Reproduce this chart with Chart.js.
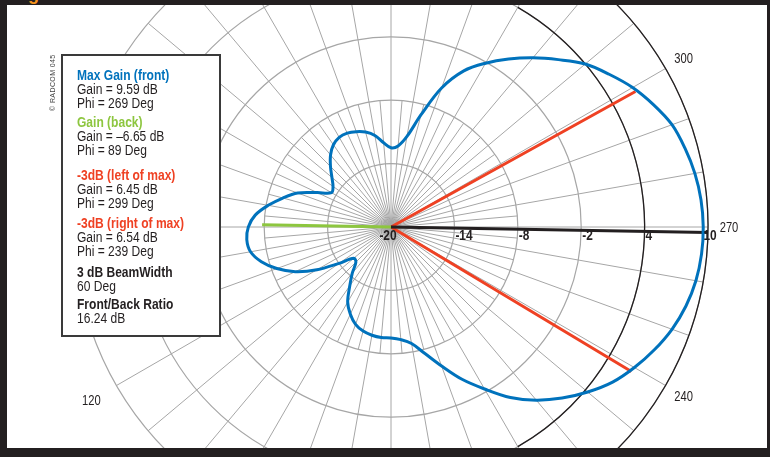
<!DOCTYPE html>
<html>
<head>
<meta charset="utf-8">
<script src="https://cdn.jsdelivr.net/npm/chart.js@4.4.1/dist/chart.umd.min.js"></script>
<style>
    html, body {
        margin: 0;
        padding: 0;
        width: 770px;
        height: 457px;
        overflow: hidden;
        background: #231f20;
        font-family: "Liberation Sans", Arial, sans-serif;
    }
    #panel {
        position: absolute;
        left: 7px;
        top: 5px;
        width: 760px;
        height: 443px;
        background: #fff;
        overflow: hidden;
    }
    #chartWrap {
        position: absolute;
        left: 24px;
        top: -138px;
        width: 720px;
        height: 720px;
    }
    #titleTail {
        position: absolute;
        left: 12px;
        top: -15px;
        font: bold 18px/18px "Liberation Sans", Arial, sans-serif;
        color: #f7941d;
    }
    #copyright {
        position: absolute;
        left: 49px;
        top: 111px;
        transform: rotate(-90deg);
        transform-origin: 0 0;
        font-size: 7px;
        line-height: 8px;
        letter-spacing: 0.4px;
        color: #444;
        white-space: nowrap;
    }
    #legendBox {
        position: absolute;
        left: 61px;
        top: 54px;
        width: 160px;
        height: 283px;
        box-sizing: border-box;
        border: 2px solid #3a3a3a;
        background: #fff;
    }
    .group {
        position: absolute;
        left: 14px;
        transform: scaleX(0.86);
        transform-origin: 0 0;
        font-size: 14px;
        line-height: 14px;
        color: #231f20;
        white-space: nowrap;
    }
    .group b { display: block; }
    .blue { color: #0072bc; }
    .green { color: #8dc63f; }
    .red { color: #ef4123; }
</style>
</head>
<body>
<div id="panel">
    <div id="chartWrap"><canvas id="patternChart" width="720" height="720"></canvas></div>
</div>
<div id="titleTail">Fig</div>
<div id="copyright">© RADCOM 045</div>
<div id="legendBox">
    <div class="group" style="top:12px"><b class="blue">Max Gain (front)</b>Gain = 9.59 dB<br>Phi = 269 Deg</div>
    <div class="group" style="top:59px"><b class="green">Gain (back)</b>Gain = –6.65 dB<br>Phi = 89 Deg</div>
    <div class="group" style="top:112px"><b class="red">-3dB (left of max)</b>Gain = 6.45 dB<br>Phi = 299 Deg</div>
    <div class="group" style="top:160px"><b class="red">-3dB (right of max)</b>Gain = 6.54 dB<br>Phi = 239 Deg</div>
    <div class="group" style="top:209px"><b>3 dB BeamWidth</b>60 Deg</div>
    <div class="group" style="top:241px"><b>Front/Back Ratio</b>16.24 dB</div>
</div>

<script>
// Pattern, every 5 degrees of phi (dB)
const patternPhi = [
    0, 5, 10, 15, 20, 25, 30, 35, 40, 45, 50, 55,
    60, 65, 70, 75, 80, 85, 90, 95, 100, 105, 110, 115,
    120, 125, 130, 135, 140, 145, 150, 155, 160, 165, 170, 175,
    180, 185, 190, 195, 200, 205, 210, 215, 220, 225, 230, 235,
    240, 245, 250, 255, 260, 265, 270, 275, 280, 285, 290, 295,
    300, 305, 310, 315, 320, 325, 330, 335, 340, 345, 350, 355
];
const patternGain = [
    -12.5, -12.0, -11.2, -10.7, -10.4, -10.2, -10.2, -10.5, -11.1, -11.9, -12.7, -13.3,
    -13.5, -12.3, -10.6, -9.4, -8.2, -7.1, -6.5, -6.3, -6.5, -7.3, -8.5, -10.0,
    -11.9, -14.0, -15.4, -15.3, -14.3, -13.2, -11.8, -10.9, -10.2, -9.8, -9.6, -9.5,
    -9.5, -9.3, -8.8, -7.6, -6.0, -4.1, -2.3, -0.3, 1.4, 2.9, 4.3, 5.6,
    6.6, 7.5, 8.3, 8.9, 9.3, 9.5, 9.55, 9.45, 9.2, 8.8, 8.3, 7.4,
    6.4, 5.2, 4.0, 2.4, 0.9, -0.6, -2.1, -3.7, -6.0, -9.0, -11.3, -12.3
];

// Marker lines: direction (phi) and where each line stops on the dB scale
const markerPhi = [269, 89, 299, 239];
const markerReach = [10, -7.8, 6.45, 6.54];
const markerColors = ['#231f20', '#8dc63f', '#ef4123', '#ef4123'];

// Scale
const scaleMin = -20;
const scaleMax = 10;
const scaleStep = 6;
const tickValues = [-20, -14, -8, -2, 4, 10];
const angleLabels = [120, 240, 270, 300];
const blackRings = [4, 10];
const frontSector = [210, 330];
const fineSpokeLimit = -8;

const gridGray = '#a6a6a6';
const inkBlack = '#231f20';

// phi runs counter-clockwise from the top, radar indexes run clockwise
const phiLabels = [];
for (let i = 0; i < 360; i++) phiLabels.push((360 - i) % 360);
const indexOfPhi = phi => (360 - phi) % 360;

function emptySeries() {
    return new Array(360).fill(null);
}

const patternData = emptySeries();
patternPhi.forEach((phi, k) => { patternData[indexOfPhi(phi)] = patternGain[k]; });

const markerSets = markerPhi.map((phi, k) => {
    const data = emptySeries();
    const idx = indexOfPhi(phi);
    data[idx] = markerReach[k];
    data[(idx + 1) % 360] = scaleMin;
    return {
        data: data,
        borderColor: markerColors[k],
        borderWidth: 3,
        tension: 0,
        spanGaps: true,
        fill: false,
        pointRadius: 0
    };
});

function condensedText(ctx, text, x, y, align, squeeze) {
    ctx.save();
    ctx.translate(x, y);
    ctx.scale(squeeze, 1);
    ctx.textAlign = align;
    ctx.textBaseline = 'middle';
    ctx.fillText(text, 0, 0);
    ctx.restore();
}

const polarExtras = {
    id: 'polarExtras',
    beforeDatasetsDraw(chart) {
        const scale = chart.scales.r;
        const ctx = chart.ctx;
        ctx.save();

        // 5 degree spokes, only near the centre
        const inner = scale.getDistanceFromCenterForValue(fineSpokeLimit);
        ctx.strokeStyle = gridGray;
        ctx.lineWidth = 1;
        phiLabels.forEach((phi, i) => {
            if (phi % 10 !== 5) return;
            const p = scale.getPointPosition(i, inner);
            ctx.beginPath();
            ctx.moveTo(scale.xCenter, scale.yCenter);
            ctx.lineTo(p.x, p.y);
            ctx.stroke();
        });

        // front sector of the outer rings in black
        const a1 = scale.getIndexAngle(indexOfPhi(frontSector[1])) - Math.PI / 2;
        const a2 = scale.getIndexAngle(indexOfPhi(frontSector[0])) - Math.PI / 2;
        ctx.strokeStyle = inkBlack;
        ctx.lineWidth = 1.3;
        blackRings.forEach(v => {
            ctx.beginPath();
            ctx.arc(scale.xCenter, scale.yCenter, scale.getDistanceFromCenterForValue(v), a1, a2, false);
            ctx.stroke();
        });
        ctx.restore();
    },
    afterDatasetsDraw(chart) {
        const scale = chart.scales.r;
        const ctx = chart.ctx;
        ctx.save();
        ctx.fillStyle = inkBlack;

        // dB ticks along the 270 direction
        ctx.font = 'bold 14px "Liberation Sans", Arial, sans-serif';
        tickValues.forEach(v => {
            const r = scale.getDistanceFromCenterForValue(v);
            let x = scale.xCenter + r + 1;
            let align = 'left';
            if (v === scaleMin) { x = scale.xCenter - 3; align = 'center'; }
            if (v === scaleMax) { x = scale.xCenter + r + 2; align = 'center'; }
            condensedText(ctx, String(v), x, scale.yCenter + 9, align, 0.85);
        });

        // phi labels outside the outer ring (a bit further out on the left side)
        ctx.font = '14px "Liberation Sans", Arial, sans-serif';
        angleLabels.forEach(phi => {
            const gap = phi < 180 ? 29 : 21;
            const p = scale.getPointPosition(indexOfPhi(phi), scale.drawingArea + gap);
            condensedText(ctx, String(phi), p.x, p.y + 1, 'center', 0.8);
        });
        ctx.restore();
    }
};

const ctx = document.getElementById('patternChart');
new Chart(ctx, {
    type: 'radar',
    data: {
        labels: phiLabels,
        datasets: [
            {
                data: patternData,
                borderColor: '#0072bc',
                borderWidth: 3,
                tension: 0.35,
                spanGaps: true,
                fill: false,
                pointRadius: 0
            },
            ...markerSets
        ]
    },
    options: {
        responsive: false,
        animation: false,
        layout: { padding: 43 },
        plugins: {
            legend: { display: false },
            tooltip: { enabled: false }
        },
        scales: {
            r: {
                min: scaleMin,
                max: scaleMax,
                startAngle: 0,
                ticks: { display: false, stepSize: scaleStep },
                pointLabels: { display: false },
                grid: { circular: true, color: gridGray, lineWidth: 1.2 },
                angleLines: {
                    color: gridGray,
                    lineWidth: c => (phiLabels[c.index] % 10 === 0 ? 1 : 0)
                }
            }
        }
    },
    plugins: [polarExtras]
});
</script>
</body>
</html>
